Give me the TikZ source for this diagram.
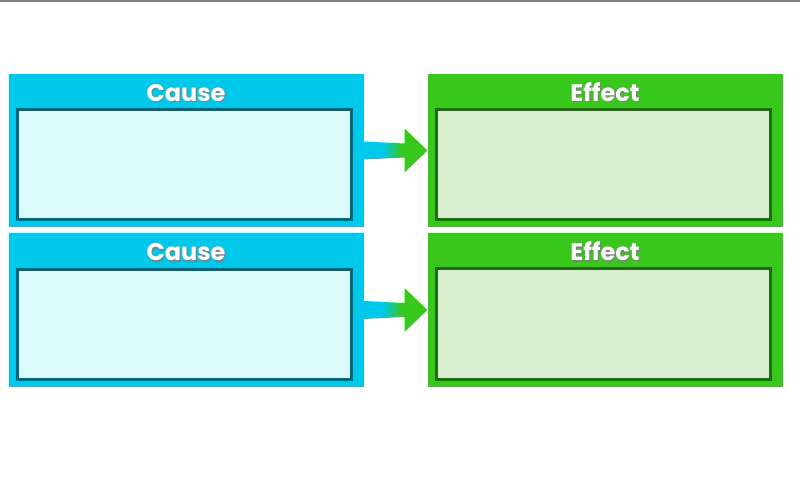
\documentclass[tikz,border=0pt]{standalone}
\usepackage{fontspec}
\newfontfamily\titlefont{Poppins}
\usetikzlibrary{positioning,calc}
\definecolor{causeblue}{RGB}{0,200,235}
\definecolor{causefill}{RGB}{220,250,252}
\definecolor{causeline}{RGB}{0,104,118}
\definecolor{effectgreen}{RGB}{56,200,28}
\definecolor{effectfill}{RGB}{216,239,207}
\definecolor{effectline}{RGB}{30,108,16}
\pgfdeclarehorizontalshading{arrowfade}{100bp}{color(0bp)=(causeblue); color(40bp)=(causeblue); color(55bp)=(effectgreen); color(100bp)=(effectgreen)}
\begin{document}
\begin{tikzpicture}[x=1pt,y=-1pt,
  panel/.style={minimum width=355pt,minimum height=153pt,inner sep=0pt,outer sep=0pt},
  causepanel/.style={panel,fill=causeblue},
  effectpanel/.style={panel,fill=effectgreen},
  box/.style={minimum width=334pt,minimum height=110pt,inner sep=0pt,outer sep=0pt,line width=3pt},
  causebox/.style={box,draw=causeline,fill=causefill},
  effectbox/.style={box,draw=effectline,fill=effectfill},
  title/.style={font=\titlefont\bfseries\fontsize{24}{26}\selectfont,text=white,inner sep=0pt},
  shadow/.style={title,text=black!50}]
\useasboundingbox (0,0) rectangle (800,478);
\fill[white] (0,0) rectangle (800,478);
\fill[black!50] (0,0) rectangle (800,2);
% two rows: cause panel on the left, effect panel on the right
\foreach \row/\y in {1/150.5,2/310}{
  \node[causepanel] (cause\row) at (186,\y) {};
  \node[effectpanel] (effect\row) at (605,\y) {};
  \node[causebox] (causein\row) at ($(cause\row.center)+(-1.5,14.5)$) {};
  \node[effectbox] (effectin\row) at ($(effect\row.center)+(-1.5,14)$) {};
  \node[shadow] (causeshade\row) at ($(cause\row.north)+(1.2,20.5)$) {Cause};
  \node[title] (causetitle\row) at ($(cause\row.north)+(0,19)$) {Cause};
  \node[shadow] (effectshade\row) at ($(effect\row.north)+(1.2,19.5)$) {Effect};
  \node[title] (effecttitle\row) at ($(effect\row.north)+(0,18)$) {Effect};
  % fat arrow from cause to effect
  \shade[shading=arrowfade]
    ($(cause\row.east)+(0,-9)$) -- ($(effect\row.west)+(-23,-7)$)
    -- ($(effect\row.west)+(-23,-22)$) -- (effect\row.west)
    -- ($(effect\row.west)+(-23,22)$) -- ($(effect\row.west)+(-23,7)$)
    -- ($(cause\row.east)+(0,9)$) -- cycle;
}
\end{tikzpicture}
\end{document}
